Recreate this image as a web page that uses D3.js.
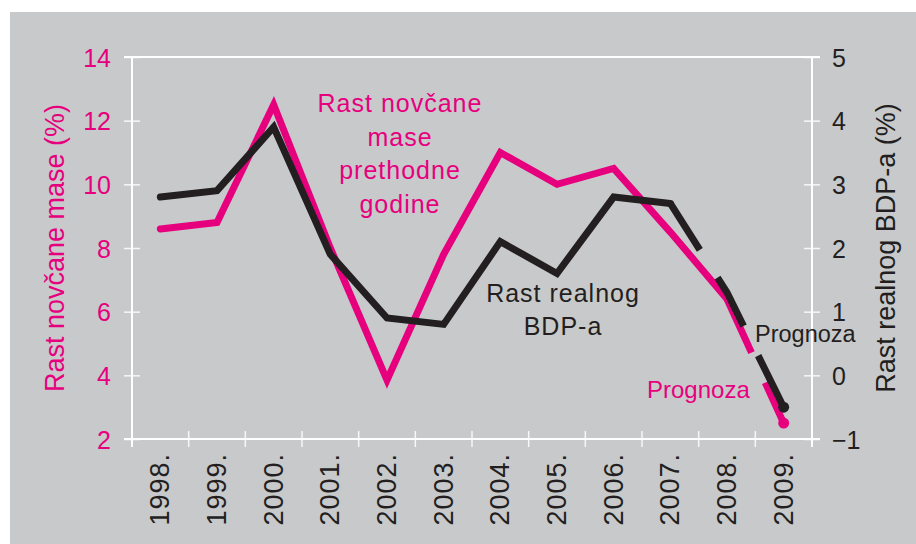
<!DOCTYPE html>
<html>
<head>
<meta charset="utf-8">
<script src="https://cdn.jsdelivr.net/npm/d3@7"></script>
<style>
  html, body { margin: 0; padding: 0; background: #ffffff; }
  svg { display: block; }
  text { font-family: "Liberation Sans", Arial, Helvetica, sans-serif; }
</style>
</head>
<body>
<script>
// ---- Data ----
const years = ["1998.", "1999.", "2000.", "2001.", "2002.", "2003.", "2004.", "2005.", "2006.", "2007.", "2008.", "2009."];
const moneyGrowth = [8.6, 8.8, 12.5, 8.0, 3.85, 7.8, 11.0, 10.0, 10.5, 8.5, 6.4, 2.5];   // left axis, %
const gdpGrowth   = [2.8, 2.9, 3.9, 1.9, 0.9, 0.8, 2.1, 1.6, 2.8, 2.7, 1.3, -0.5];      // right axis, %
const leftTicks  = [2, 4, 6, 8, 10, 12, 14];
const rightTicks = [-1, 0, 1, 2, 3, 4, 5];
const moneyForecastFrom = "2008.";  // dashed from here
const gdpForecastFrom   = "2007.";

const PINK = "#e6007e";
const DARK = "#231f20";
const BG = "#c8c9cb";

const W = 916, H = 544;
const plot = { left: 132, right: 812, top: 57, bottom: 439 };

const svg = d3.select("body").append("svg").attr("width", W).attr("height", H);

svg.append("rect").attr("x", 10).attr("y", 12).attr("width", W - 10).attr("height", H - 12).attr("fill", BG);

const x = d3.scaleBand().domain(years).range([plot.left, plot.right]).padding(0);
const yL = d3.scaleLinear().domain([2, 14]).range([plot.bottom, plot.top]);
const yR = d3.scaleLinear().domain([-1, 5]).range([plot.bottom, plot.top]);
const cx = d => x(d) + x.bandwidth() / 2;

// ---- Axes ----
const fontTick = 25;

const axL = svg.append("g").attr("transform", `translate(${plot.left},0)`)
  .call(d3.axisLeft(yL).tickValues(leftTicks).tickSize(8).tickPadding(13).tickFormat(d3.format("d")));
axL.select(".domain").remove();
axL.selectAll(".tick line").attr("x2", -8).attr("x1", 8).attr("stroke", "#ffffff").attr("stroke-width", 1.5).attr("stroke-opacity", 0.85);
axL.selectAll(".tick text").attr("x", -21).attr("fill", PINK).style("font-size", fontTick + "px").attr("dy", "0.36em");

const axR = svg.append("g").attr("transform", `translate(${plot.right},0)`)
  .call(d3.axisRight(yR).tickValues(rightTicks).tickSize(8).tickPadding(13).tickFormat(d3.format("d")));
axR.select(".domain").remove();
axR.selectAll(".tick line").attr("x1", -8).attr("x2", 8).attr("stroke", "#ffffff").attr("stroke-width", 1.5).attr("stroke-opacity", 0.85);
axR.selectAll(".tick text").attr("x", 20).attr("fill", DARK).style("font-size", fontTick + "px").attr("dy", "0.36em");

// x-axis: ticks at band boundaries
const xb = svg.append("g").attr("transform", `translate(0,${plot.bottom})`);
xb.selectAll("line.xt").data(years.slice(1)).enter().append("line")
  .attr("class", "xt")
  .attr("x1", d => x(d)).attr("x2", d => x(d))
  .attr("y1", -8).attr("y2", 8)
  .attr("stroke", "#ffffff").attr("stroke-width", 1.5).attr("stroke-opacity", 0.85);
xb.selectAll("text.xl").data(years).enter().append("text")
  .attr("class", "xl")
  .attr("transform", d => `translate(${cx(d) + 9},14) rotate(-90)`)
  .attr("text-anchor", "end")
  .attr("fill", DARK)
  .style("font-size", "27px")
  .style("letter-spacing", "1px")
  .text(d => d);

// frame
const frame = svg.append("g").attr("stroke", "#ffffff").attr("stroke-width", 2).attr("fill", "none");
frame.append("line").attr("x1", plot.left - 8).attr("x2", plot.right + 8).attr("y1", plot.bottom).attr("y2", plot.bottom);
frame.append("line").attr("x1", plot.left - 8).attr("x2", plot.right + 8).attr("y1", plot.top).attr("y2", plot.top);
frame.append("line").attr("x1", plot.left).attr("x2", plot.left).attr("y1", plot.top).attr("y2", plot.bottom + 8);
frame.append("line").attr("x1", plot.right).attr("x2", plot.right).attr("y1", plot.top).attr("y2", plot.bottom + 8);

// axis titles
svg.append("text")
  .attr("transform", `translate(64,${(plot.top + plot.bottom) / 2}) rotate(-90)`)
  .attr("text-anchor", "middle").attr("fill", PINK)
  .style("font-size", "27px")
  .text("Rast novčane mase (%)");
svg.append("text")
  .attr("transform", `translate(895,${(plot.top + plot.bottom) / 2}) rotate(-90)`)
  .attr("text-anchor", "middle").attr("fill", DARK)
  .style("font-size", "27px")
  .text("Rast realnog BDP-a (%)");

// ---- Lines ----
function drawSeries(values, yScale, color, forecastFrom, dash) {
  const pts = years.map((d, i) => ({ year: d, v: values[i] }));
  const k = years.indexOf(forecastFrom);
  const line = d3.line().x(d => cx(d.year)).y(d => yScale(d.v));
  svg.append("path").datum(pts.slice(0, k + 1))
    .attr("d", line).attr("fill", "none").attr("stroke", color)
    .attr("stroke-width", 7).attr("stroke-linejoin", "miter").attr("stroke-linecap", "round");
  svg.append("path").datum(pts.slice(k))
    .attr("d", line).attr("fill", "none").attr("stroke", color)
    .attr("stroke-width", 7).attr("stroke-linejoin", "miter").attr("stroke-linecap", "butt")
    .attr("stroke-dasharray", dash);
  const last = pts[pts.length - 1];
  svg.append("circle").attr("cx", cx(last.year)).attr("cy", yScale(last.v)).attr("r", 5.5).attr("fill", color);
}

drawSeries(moneyGrowth, yL, PINK, moneyForecastFrom, "59,33");
drawSeries(gdpGrowth, yR, DARK, gdpForecastFrom, "55,33");

// ---- Annotations ----
function block(lines, xc, y0, step, color, size, ls, anchor) {
  const t = svg.append("text").attr("fill", color).attr("text-anchor", anchor || "middle")
    .style("font-size", size + "px").style("letter-spacing", ls + "px");
  lines.forEach((s, i) => t.append("tspan").attr("x", xc).attr("y", y0 + i * step).text(s));
}
block(["Rast novčane", "mase", "prethodne", "godine"], 400, 112, 33.7, PINK, 25, 1, "middle");
block(["Rast realnog", "BDP-a"], 563, 301.5, 33.5, DARK, 25, 1, "middle");
block(["Prognoza"], 755, 342, 0, DARK, 23.5, 0, "start");
block(["Prognoza"], 647, 398, 0, PINK, 24, 0, "start");
</script>
</body>
</html>
